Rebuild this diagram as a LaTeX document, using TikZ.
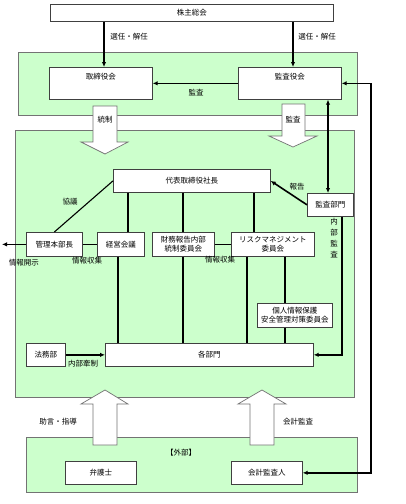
\documentclass[tikz,border=0pt]{standalone}
\usepackage{fontspec}
\setmainfont{Noto Sans CJK JP}
\usetikzlibrary{arrows.meta}
\definecolor{lg}{HTML}{CCFFCC}
\begin{document}
\begin{tikzpicture}[x=1pt,y=-1pt,
  font=\fontsize{7.5}{9}\selectfont,
  grp/.style={draw=black!55, fill=lg, line width=0.7pt},
  box/.style={draw=black!75, fill=white, line width=0.7pt, inner sep=0pt, anchor=north west, align=center},
  wh/.style 2 args={minimum width=#1, minimum height=#2},
  tophigh/.style={text height=12pt, text depth=20pt},
  conn/.style={line width=1.1pt},
  thk/.style={line width=1.6pt},
  tip/.tip={Latex[length=5pt,width=4.5pt]},
  arr/.style={-tip},
  blk/.style={draw=black!55, fill=white, line width=0.7pt},
  lbl/.style={inner sep=0pt}
]
\useasboundingbox (0,0) rectangle (405,504);

% groups
\draw[grp] (18,52) rectangle (357,115);
\draw[grp] (15,130) rectangle (354,397);
\draw[grp] (26,437) rectangle (357,492);

% block arrows
\draw[blk] (93,106) -- (117,106) -- (117,142) -- (128,142) -- (105,154) -- (81,142) -- (93,142) -- cycle;
\draw[blk] (282,104) -- (305,104) -- (305,136) -- (317,136) -- (293,147) -- (269,136) -- (282,136) -- cycle;
\draw[blk] (93,445) -- (117,445) -- (117,404) -- (128,404) -- (105,390) -- (81,404) -- (93,404) -- cycle;
\draw[blk] (250,445) -- (274,445) -- (274,404) -- (286,404) -- (262,390) -- (238,404) -- (250,404) -- cycle;
\node[lbl] (tosei) at (105,120) {統制};
\node[lbl] (kansa2) at (293,120) {監査};

% nodes
\node[box, wh={283}{17}] (sh) at (50,4) {株主総会};
\node[box, wh={103}{32}, tophigh] (tk) at (49,67) {取締役会};
\node[box, wh={103}{32}, tophigh] (ky) at (238,67) {監査役会};
\node[box, wh={157}{23}] (ceo) at (113,169) {代表取締役社長};
\node[box, wh={46}{23}] (audit) at (307,193) {監査部門};
\node[box, wh={56}{24}] (mgr) at (26,232) {管理本部長};
\node[box, wh={47}{24}] (keiei) at (97,232) {経営会議};
\node[box, wh={62}{24}] (zaimu) at (152,232) {財務報告内部\\統制委員会};
\node[box, wh={83}{24}] (risk) at (231,232) {リスクマネジメント\\委員会};
\node[box, wh={75}{24}] (kojin) at (257,303) {個人情報保護\\安全管理対策委員会};
\node[box, wh={39}{23}] (legal) at (26,343) {法務部};
\node[box, wh={208}{23}] (kakubu) at (105,343) {各部門};
\node[box, wh={71}{23}] (bengo) at (65,461) {弁護士};
\node[box, wh={71}{23}] (kaikei) at (231,461) {会計監査人};

% column coordinates
\coordinate (xa) at (104,0);
\coordinate (xb) at (293,0);
\coordinate (xc) at (328,0);
\coordinate (xr) at (371,0);
\coordinate (xl) at (2,0);
\coordinate (x128) at (128,0);
\coordinate (x183) at (183,0);
\coordinate (x254) at (254,0);
\coordinate (x118) at (118,0);
\coordinate (x247) at (247,0);
\coordinate (x285) at (285,0);
\coordinate (x342) at (342,0);

% connectors
\draw[thk, arr] (sh.south -| xa) -- (tk.north -| xa);
\draw[thk, arr] (sh.south -| xb) -- (tk.north -| xb);
\draw[thk, arr] (ky.west) -- (tk.east);
\draw[thk, tip-tip] (ky.east) -- (ky.east -| xr) -- (kaikei.east -| xr) -- (kaikei.east);
\draw[thk, tip-tip] (ky.south -| xc) -- (audit.north -| xc);
\draw[thk, arr] (audit.west) -- (ceo.east);
\draw[conn] (ceo.west) -- (mgr.north);
\draw[conn] (ceo.south -| x128) -- (keiei.north -| x128);
\draw[conn] (ceo.south -| x183) -- (zaimu.north -| x183);
\draw[conn] (ceo.south -| x254) -- (risk.north -| x254);
\draw[conn] (mgr.east) -- (keiei.west);
\draw[conn] (zaimu.east) -- (risk.west);
\draw[thk, arr] (mgr.west) -- (mgr.west -| xl);
\draw[conn] (keiei.south -| x118) -- (kakubu.north -| x118);
\draw[conn] (zaimu.south -| x183) -- (kakubu.north -| x183);
\draw[conn] (risk.south -| x247) -- (kakubu.north -| x247);
\draw[conn] (risk.south -| x285) -- (kojin.north -| x285);
\draw[conn] (kojin.south -| x285) -- (kakubu.north -| x285);
\draw[thk, arr] (audit.south -| x342) -- (kakubu.east -| x342) -- (kakubu.east);
\draw[thk, arr] (legal.east) -- (kakubu.west);

% labels
\node[lbl] (sen1) at (129,37) {選任・解任};
\node[lbl] (sen2) at (317,37) {選任・解任};
\node[lbl] (kansa1) at (196,93) {監査};
\node[lbl] (kyogi) at (70,202) {協議};
\node[lbl] (hokoku) at (297,187) {報告};
\node[lbl, align=center, font=\fontsize{7.5}{11}\selectfont] (naibu) at (334,238) {内\\部\\監\\査};
\node[lbl] (kaiji) at (24,263) {情報開示};
\node[lbl] (shu1) at (87,261) {情報収集};
\node[lbl] (shu2) at (220,260) {情報収集};
\node[lbl] (kensei) at (83,364) {内部牽制};
\node[lbl] (jogen) at (58,422) {助言・指導};
\node[lbl] (kaikan) at (298,422) {会計監査};
\node[lbl] (gaibu) at (181,453) {【外部】};
\end{tikzpicture}
\end{document}
